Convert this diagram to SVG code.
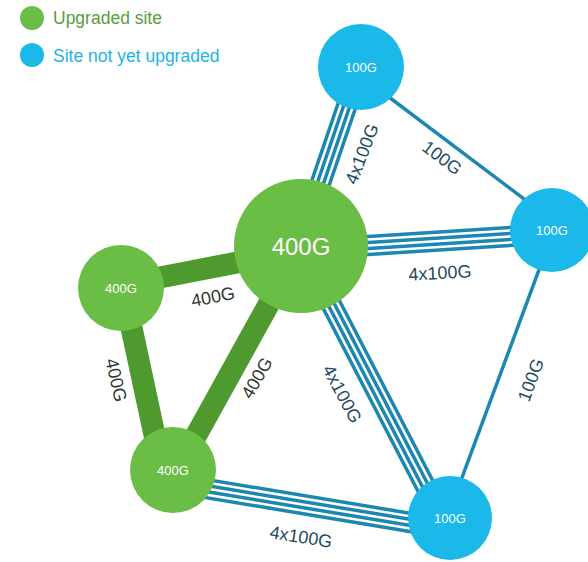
<svg xmlns="http://www.w3.org/2000/svg" width="588" height="562" viewBox="0 0 588 562">
<style>
  text { font-family: "Liberation Sans", Arial, sans-serif; }
  .green { fill: #6abd45; }
  .blue { fill: #1bb8ea; }
  .thick { stroke: #4f9a2e; stroke-width: 22; fill: none; }
  .fiber { stroke: #1c87b0; stroke-width: 3.5; fill: none; }
  .lbl { font-size: 18px; text-anchor: middle; dominant-baseline: central; }
  .lb { fill: #224b5e; }
  .lg { fill: #2e3b2d; }
  .nt { fill: #ffffff; text-anchor: middle; dominant-baseline: central; font-size: 13px; }
  .legend { font-size: 17.5px; }
</style>
<rect width="588" height="562" fill="#ffffff"/>

<g id="legend">
  <circle cx="32" cy="18" r="12" class="green"/>
  <text x="53" y="24" class="legend" fill="#5c9c3b">Upgraded site</text>
  <circle cx="32" cy="55" r="12" class="blue"/>
  <text x="53" y="62" class="legend" fill="#1db5e6">Site not yet upgraded</text>
</g>

<g id="connectors">
  <!-- thick 400G green links -->
  <line class="thick" x1="121" y1="285" x2="302" y2="250"/>
  <line class="thick" x1="123" y1="288" x2="162" y2="470"/>
  <line class="thick" x1="301" y1="246" x2="177" y2="470"/>
  <!-- 4x100G bands -->
  <g class="fiber" transform="translate(299,246) rotate(-71.18)">
    <line x1="0" y1="-9" x2="189" y2="-9"/><line x1="0" y1="-3" x2="189" y2="-3"/>
    <line x1="0" y1="3" x2="189" y2="3"/><line x1="0" y1="9" x2="189" y2="9"/>
  </g>
  <g class="fiber" transform="translate(302,249.7) rotate(-3.64)">
    <line x1="0" y1="-9" x2="250" y2="-9"/><line x1="0" y1="-3" x2="250" y2="-3"/>
    <line x1="0" y1="3" x2="250" y2="3"/><line x1="0" y1="9" x2="250" y2="9"/>
  </g>
  <g class="fiber" transform="translate(301,246) rotate(62.6)">
    <line x1="0" y1="-9" x2="306" y2="-9"/><line x1="0" y1="-3" x2="306" y2="-3"/>
    <line x1="0" y1="3" x2="306" y2="3"/><line x1="0" y1="9" x2="306" y2="9"/>
  </g>
  <g class="fiber" transform="translate(173,483) rotate(9.43)">
    <line x1="0" y1="-9" x2="281" y2="-9"/><line x1="0" y1="-3" x2="281" y2="-3"/>
    <line x1="0" y1="3" x2="281" y2="3"/><line x1="0" y1="9" x2="281" y2="9"/>
  </g>
  <!-- single 100G links -->
  <line class="fiber" x1="361" y1="76" x2="552" y2="220"/>
  <line class="fiber" x1="553" y1="232" x2="447" y2="518"/>
  <!-- labels -->
  <text class="lbl lb" transform="translate(362,154) rotate(-69)">4x100G</text>
  <text class="lbl lb" transform="translate(442,158) rotate(37)">100G</text>
  <text class="lbl lb" transform="translate(440,273) rotate(-3)">4x100G</text>
  <text class="lbl lg" transform="translate(213,297) rotate(-11)">400G</text>
  <text class="lbl lg" transform="translate(116,380) rotate(77)">400G</text>
  <text class="lbl lg" transform="translate(257,378) rotate(-60)">400G</text>
  <text class="lbl lb" transform="translate(342,394) rotate(62)">4x100G</text>
  <text class="lbl lb" transform="translate(531,380) rotate(-70)">100G</text>
  <text class="lbl lb" transform="translate(301,537) rotate(9)">4x100G</text>
</g>

<g id="node-core">
  <circle cx="301" cy="246" r="67" class="green"/>
  <text x="301" y="246" class="nt" style="font-size:24px">400G</text>
</g>
<g id="node-left">
  <circle cx="121" cy="288" r="43" class="green"/>
  <text x="121" y="288" class="nt">400G</text>
</g>
<g id="node-bottom-left">
  <circle cx="173" cy="470" r="43" class="green"/>
  <text x="173" y="470" class="nt">400G</text>
</g>
<g id="node-top">
  <circle cx="361" cy="67" r="43" class="blue"/>
  <text x="361" y="67" class="nt">100G</text>
</g>
<g id="node-right">
  <circle cx="552" cy="230" r="42" class="blue"/>
  <text x="552" y="230" class="nt">100G</text>
</g>
<g id="node-bottom-right">
  <circle cx="450" cy="518" r="42" class="blue"/>
  <text x="450" y="518" class="nt">100G</text>
</g>
</svg>
